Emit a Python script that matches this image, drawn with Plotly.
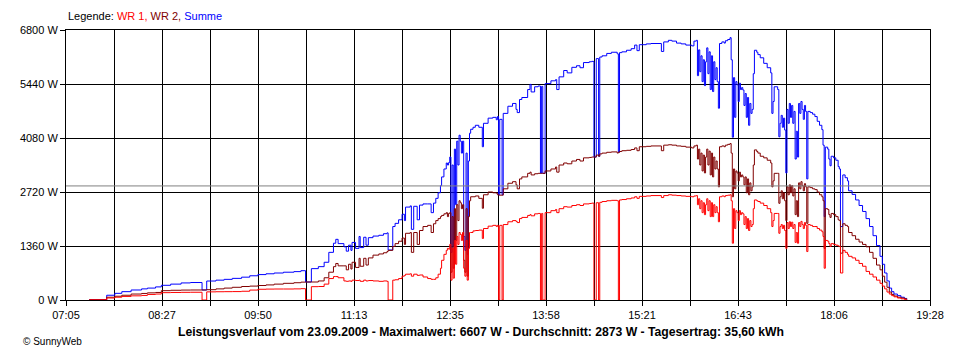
import numpy as np
import plotly.graph_objects as go

# ---------------- data ----------------
TIMES = [
    "07:25", "07:40", "07:47", "07:53", "08:01", "08:10", "08:15", "08:22", "08:27", "08:35",
    "08:44", "08:52", "09:02", "09:06", "09:14", "09:21", "09:28", "09:36", "09:43", "09:50",
    "09:57", "10:04", "10:12", "10:21", "10:27", "10:31", "10:36", "10:42", "10:47", "10:51",
    "10:55", "10:57", "10:59", "11:04", "11:06", "11:08", "11:10", "11:11", "11:14", "11:17",
    "11:18", "11:21", "11:23", "11:25", "11:29", "11:34", "11:38", "11:41", "11:42", "11:46",
    "11:48", "11:51", "11:54", "11:56", "11:57", "12:01", "12:02", "12:04", "12:07", "12:09",
    "12:12", "12:16", "12:19", "12:21", "12:23", "12:25", "12:27", "12:28", "12:30", "12:32",
    "12:33", "12:34", "12:35", "12:36", "12:37", "12:38", "12:39", "12:40", "12:41", "12:42",
    "12:43", "12:44", "12:45", "12:46", "12:47", "12:48", "12:49", "12:50", "12:51", "12:52",
    "12:53", "12:55", "12:57", "13:00", "13:03", "13:04", "13:08", "13:12", "13:15", "13:16",
    "13:17", "13:18", "13:20", "13:21", "13:25", "13:29", "13:32", "13:33", "13:35", "13:37",
    "13:42", "13:44", "13:45", "13:48", "13:51", "13:53", "13:54", "13:55", "13:57", "14:02",
    "14:06", "14:07", "14:09", "14:13", "14:16", "14:20", "14:24", "14:27", "14:30", "14:35",
    "14:37", "14:39", "14:41", "14:43", "14:44", "14:46", "14:50", "14:54", "14:59", "15:00",
    "15:01", "15:03", "15:07", "15:11", "15:14", "15:16", "15:18", "15:24", "15:28", "15:37",
    "15:39", "15:43", "15:46", "15:50", "15:54", "15:58", "16:03", "16:05", "16:07", "16:08",
    "16:09", "16:10", "16:11", "16:12", "16:13", "16:14", "16:15", "16:16", "16:17", "16:18",
    "16:19", "16:20", "16:21", "16:22", "16:23", "16:24", "16:25", "16:26", "16:27", "16:29",
    "16:31", "16:32", "16:34", "16:36", "16:37", "16:38", "16:39", "16:40", "16:41", "16:42",
    "16:43", "16:44", "16:45", "16:46", "16:47", "16:48", "16:49", "16:50", "16:51", "16:52",
    "16:53", "16:54", "16:55", "16:56", "16:57", "16:59", "17:00", "17:02", "17:05", "17:08",
    "17:11", "17:12", "17:13", "17:14", "17:17", "17:18", "17:19", "17:20", "17:21", "17:22",
    "17:23", "17:24", "17:25", "17:26", "17:27", "17:28", "17:29", "17:30", "17:31", "17:32",
    "17:33", "17:34", "17:35", "17:36", "17:37", "17:38", "17:39", "17:40", "17:41", "17:42",
    "17:43", "17:45", "17:47", "17:49", "17:51", "17:53", "17:55", "17:56", "17:57", "17:58",
    "18:00", "18:01", "18:02", "18:03", "18:05", "18:07", "18:09", "18:10", "18:11", "18:13",
    "18:15", "18:17", "18:18", "18:21", "18:24", "18:27", "18:30", "18:33", "18:36", "18:39",
    "18:42", "18:45", "18:47", "18:49", "18:51", "18:53", "18:55", "18:57", "19:00", "19:03",
    "19:06", "19:08",
]

WR1 = [
    5, 50, 70, 90, 105, 115, 140, 150, 185, 190,
    193, 195, 0, 205, 208, 210, 212, 220, 250, 270,
    275, 277, 277, 280, 285, 0, 336, 340, 400, 540,
    590, 590, 560, 480, 470, 480, 470, 500, 490, 500,
    470, 500, 480, 490, 480, 470, 480, 470, 0, 500,
    510, 540, 600, 620, 650, 660, 600, 650, 620, 630,
    580, 540, 520, 520, 560, 650, 800, 1000, 1150, 1250,
    1300, 1280, 1400, 500, 1300, 550, 1500, 900, 1600, 1400,
    1700, 1650, 1500, 1700, 800, 600, 1500, 500, 1300, 1700,
    1700, 1740, 1750, 1760, 1550, 1800, 1860, 1880, 1850, 1880,
    0, 1880, 0, 1900, 1970, 2000, 1980, 1950, 2050, 2080,
    2130, 2150, 2120, 2170, 2180, 0, 2180, 0, 2200, 2250,
    2280, 2200, 2300, 2350, 2340, 2380, 2400, 2380, 2420, 2430,
    2440, 0, 2450, 0, 2460, 2480, 2500, 2510, 2500, 0,
    2520, 2530, 2550, 2570, 2600, 2560, 2610, 2620, 2630, 2580,
    2630, 2650, 2640, 2630, 2620, 2610, 2600, 2620, 2630, 2400,
    2550, 2300, 2500, 2200, 2450, 2150, 2400, 2550, 2250, 2500,
    2100, 2450, 2100, 2400, 2200, 2350, 2200, 1970, 2600, 2620,
    2600, 2630, 2640, 2650, 2500, 1430, 2300, 1800, 2250, 2200,
    2000, 2250, 2150, 2200, 2170, 1900, 2100, 1800, 2050, 1750,
    2000, 1850, 1900, 2300, 2520, 2500, 2480, 2440, 2380, 2300,
    2200, 1850, 2000, 2180, 2180, 1680, 1850, 1900, 1800, 1880,
    1750, 1300, 1950, 1800, 1970, 1850, 1960, 1800, 1900, 1450,
    1700, 1430, 1950, 1850, 1980, 1900, 1800, 1950, 1880, 1220,
    1900, 1880, 1850, 1850, 1800, 1760, 1720, 1600, 800, 1500,
    1480, 1420, 1350, 1420, 1400, 1380, 1360, 1350, 680, 1250,
    1200, 1150, 1100, 1060, 1000, 920, 850, 720, 650, 580,
    500, 420, 350, 280, 200, 150, 110, 80, 50, 30,
    15, 5,
]

WR2 = [
    5, 70, 95, 120, 150, 165, 180, 190, 235, 245,
    250, 252, 252, 260, 280, 300, 320, 340, 350, 365,
    380, 400, 420, 435, 450, 453, 453, 480, 560, 700,
    840, 920, 860, 860, 760, 900, 780, 950, 820, 1050,
    850, 1050, 880, 1060, 1130, 1160, 1190, 1220, 1250, 1350,
    1420, 1480, 1560, 1400, 1680, 1700, 1200, 1700, 1400, 1750,
    1850, 1880, 1700, 1920, 2000, 2050, 2100, 2130, 2170, 2200,
    2100, 2180, 2200, 700, 2100, 800, 2300, 1500, 2400, 2000,
    2500, 2450, 2300, 2400, 1000, 700, 2300, 600, 2100, 2500,
    2600, 2600, 2620, 2560, 2310, 2650, 2720, 2700, 2690, 2650,
    2640, 2640, 2640, 2800, 2940, 2980, 2900, 2800, 3050, 3100,
    3190, 3220, 3150, 3180, 3190, 3190, 3190, 3190, 3250, 3300,
    3350, 3220, 3400, 3450, 3430, 3500, 3540, 3500, 3580, 3590,
    3600, 3600, 3650, 3620, 3680, 3700, 3720, 3730, 3700, 3720,
    3740, 3760, 3770, 3790, 3830, 3760, 3860, 3870, 3880, 3760,
    3900, 3910, 3900, 3880, 3870, 3850, 3830, 3880, 3900, 3550,
    3800, 3400, 3700, 3250, 3650, 3200, 3600, 3800, 3400, 3750,
    3150, 3700, 3100, 3600, 3300, 3500, 3300, 2850, 3860, 3880,
    3860, 3900, 3920, 3940, 3700, 2600, 3300, 2800, 3250, 3200,
    3000, 3220, 3100, 3150, 3100, 2900, 3100, 2700, 3050, 2650,
    2950, 2750, 2850, 3400, 3780, 3740, 3700, 3620, 3580, 3520,
    3450, 2850, 3000, 3190, 3190, 2435, 2600, 2750, 2550, 2700,
    2500, 2000, 2850, 2650, 2900, 2700, 2880, 2620, 2800, 2150,
    2500, 2100, 2950, 2800, 2980, 2880, 2750, 2930, 2850, 1930,
    2850, 2830, 2800, 2780, 2720, 2650, 2600, 2500, 1300, 2300,
    2280, 2150, 2080, 2180, 2150, 2100, 2020, 2000, 1180, 1920,
    1880, 1850, 1700, 1620, 1530, 1460, 1400, 1340, 1200, 1050,
    880, 760, 600, 450, 320, 200, 140, 100, 70, 50,
    30, 10,
]

SUMME = [
    10, 120, 168, 210, 252, 280, 300, 330, 370, 400,
    430, 440, 252, 478, 500, 520, 545, 575, 610, 640,
    660, 680, 700, 715, 738, 453, 790, 840, 950, 1200,
    1430, 1528, 1420, 1340, 1230, 1380, 1250, 1450, 1300, 1600,
    1320, 1580, 1380, 1570, 1610, 1630, 1670, 1690, 1260, 1850,
    1930, 2020, 2160, 2000, 2340, 2370, 1780, 2360, 2020, 2390,
    2420, 2420, 2200, 2440, 2560, 2700, 2880, 3100, 3300, 3450,
    3400, 3460, 3600, 1200, 3400, 1350, 3800, 2400, 4000, 3400,
    4150, 4000, 3700, 4000, 1600, 1250, 3700, 1150, 3500, 4200,
    4300, 4350, 4400, 4350, 3860, 4450, 4580, 4600, 4540, 4620,
    2650, 4550, 2650, 4700, 4880, 4950, 4800, 4720, 5050, 5100,
    5300, 5430, 5240, 5370, 5390, 3190, 5380, 3190, 5450, 5520,
    5550, 5300, 5620, 5780, 5720, 5860, 5900, 5850, 5980, 6000,
    6010, 3600, 6080, 3620, 6120, 6150, 6210, 6240, 6200, 3720,
    6230, 6250, 6290, 6330, 6420, 6280, 6430, 6450, 6460, 6260,
    6500, 6540, 6520, 6470, 6450, 6420, 6400, 6520, 6540, 5650,
    6300, 5750, 6150, 5500, 6050, 5400, 6000, 6350, 5700, 6250,
    5300, 6150, 5250, 6000, 5550, 5850, 5500, 4830, 6460, 6500,
    6470, 6530, 6560, 6607, 6050, 4100, 5600, 4600, 5500, 5420,
    5000, 5460, 5300, 5350, 5290, 4900, 5200, 4600, 5100, 4400,
    4950, 4700, 4800, 5700, 6290, 6240, 6180, 6100, 5960, 5850,
    5720, 4700, 5000, 5370, 5300, 4110, 4450, 4650, 4350, 4580,
    4280, 3200, 4800, 4450, 4950, 4600, 4900, 4450, 4750, 3550,
    4250, 3600, 4950, 4700, 5000, 4800, 4550, 4900, 4750, 3050,
    4750, 4720, 4680, 4620, 4500, 4400, 4290, 3900, 2100, 3850,
    3800, 3550, 3380, 3620, 3580, 3520, 3360, 3300, 1850, 3150,
    3080, 3000, 2750, 2660, 2520, 2380, 2230, 2050, 1850, 1620,
    1370, 1100, 900, 680, 480, 300, 210, 150, 110, 70,
    40, 15,
]

Y_TICKS = [0, 1360, 2720, 4080, 5440, 6800]
X_LABELS = ["07:05", "08:27", "09:50", "11:13", "12:35",
            "13:58", "15:21", "16:43", "18:06", "19:28"]
AVERAGE = 2873
SERIES_NAMES = ["WR 1", "WR 2", "Summe"]
FOOTER = ("Leistungsverlauf vom 23.09.2009 - Maximalwert: 6607 W - "
          "Durchschnitt: 2873 W - Tagesertrag: 35,60 kWh")
CREDIT = "© SunnyWeb"

assert len(TIMES) == len(WR1) == len(WR2) == len(SUMME)

# ---------------- figure ----------------
def to_min(s):
    h, m = s.split(":")
    return int(h) * 60 + int(m)

x = [to_min(t) for t in TIMES]
x_start, x_end = to_min(X_LABELS[0]), to_min(X_LABELS[-1])
n_ticks = 2 * len(X_LABELS) - 1
tickvals = list(np.linspace(x_start, x_end, n_ticks))
ticktext = [X_LABELS[i // 2] if i % 2 == 0 else "" for i in range(n_ticks)]

C_WR1, C_WR2, C_SUM = "#FF0000", "#800000", "#0000FF"
FONT = "Liberation Sans, Arial, sans-serif"

fig = go.Figure()
for name, vals, col in [(SERIES_NAMES[2], SUMME, C_SUM),
                        (SERIES_NAMES[1], WR2, C_WR2),
                        (SERIES_NAMES[0], WR1, C_WR1)]:
    fig.add_trace(go.Scatter(x=x, y=vals, name=name, mode="lines",
                             line=dict(color=col, width=1, shape="hv"),
                             hoverinfo="skip"))

axis_common = dict(showgrid=True, gridcolor="black", gridwidth=1,
                   showline=True, linecolor="black", linewidth=1, mirror=True,
                   ticks="outside", ticklen=5, tickcolor="black", tickwidth=1,
                   zeroline=False, tickfont=dict(family=FONT, size=11, color="black"))

# the page body has an 8px margin, so the figure is 8px smaller than the window
fig.update_layout(
    width=952, height=352,
    margin=dict(l=52, r=30, t=22, b=60),
    paper_bgcolor="white", plot_bgcolor="white",
    showlegend=False,
    font=dict(family=FONT, size=11, color="black"),
    xaxis=dict(range=[x_start, x_end], tickmode="array", tickvals=tickvals,
               ticktext=ticktext, **axis_common),
    yaxis=dict(range=[Y_TICKS[0], Y_TICKS[-1]], tickmode="array", tickvals=Y_TICKS,
               ticktext=[f"{v} W" for v in Y_TICKS], **axis_common),
)

fig.add_shape(type="line", xref="paper", x0=0, x1=1, yref="y", y0=AVERAGE, y1=AVERAGE,
              line=dict(color="#808080", width=1), layer="above")

legend_text = ("Legende: "
               f"<span style='color:{C_WR1}'>{SERIES_NAMES[0]}, </span>"
               f"<span style='color:{C_WR2}'>{SERIES_NAMES[1]}, </span>"
               f"<span style='color:{C_SUM}'>{SERIES_NAMES[2]}</span>")
fig.add_annotation(text=legend_text, xref="paper", yref="paper", x=0, y=1.05,
                   xanchor="left", yanchor="middle", showarrow=False,
                   font=dict(family=FONT, size=11, color="black"))
fig.add_annotation(text=f"<b>{FOOTER}</b>", xref="paper", yref="paper", x=0.4805, y=-0.1185,
                   xanchor="center", yanchor="middle", showarrow=False,
                   font=dict(family=FONT, size=12.2, color="black"))
fig.add_annotation(text=CREDIT, xref="paper", yref="paper", x=-0.052, y=-0.152,
                   xanchor="left", yanchor="middle", showarrow=False,
                   font=dict(family=FONT, size=10, color="black"))

fig.write_html("out.html")
